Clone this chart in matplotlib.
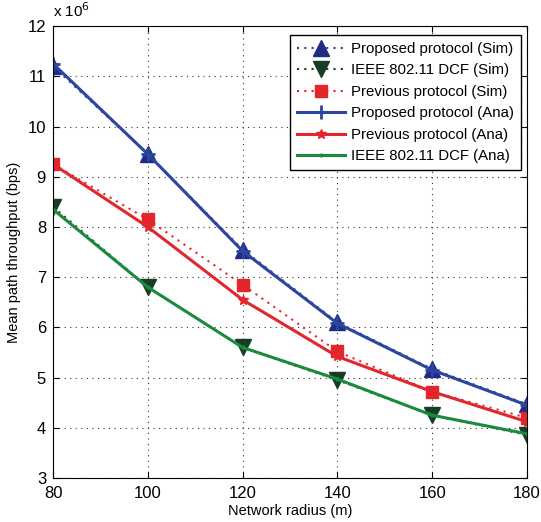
import matplotlib.pyplot as plt
from matplotlib.ticker import MultipleLocator

plt.rcParams['font.family'] = ['Liberation Sans', 'DejaVu Sans']

radius = [80, 100, 120, 140, 160, 180]

# throughput in units of 1e6 bps
proposed_sim = [11.2, 9.45, 7.55, 6.1, 5.17, 4.47]
dcf_sim = [8.4, 6.8, 5.6, 4.95, 4.25, 3.86]
previous_sim = [9.25, 8.15, 6.85, 5.52, 4.72, 4.2]
proposed_ana = [11.25, 9.45, 7.52, 6.08, 5.15, 4.45]
previous_ana = [9.25, 8.0, 6.55, 5.42, 4.72, 4.12]
dcf_ana = [8.35, 6.8, 5.6, 4.97, 4.25, 3.88]

blue = '#2b45a0'
navy = '#1f2b85'
red = '#e3262b'
green = '#1c8a3e'
dkgreen = '#173d24'

fig = plt.figure(figsize=(5.41, 5.22), dpi=100)
ax = fig.add_axes([0.098, 0.0843, 0.876, 0.8657])

ax.plot(radius, proposed_sim, linestyle=(0, (1, 2.5)), color=blue, linewidth=1.5,
        marker='^', markersize=11, markerfacecolor=navy, markeredgecolor=navy,
        label='Proposed protocol (Sim)')
ax.plot(radius, dcf_sim, linestyle=(0, (1, 2.5)), color=dkgreen, linewidth=1.5,
        marker='v', markersize=11, markerfacecolor=dkgreen, markeredgecolor=dkgreen,
        label='IEEE 802.11 DCF (Sim)')
ax.plot(radius, previous_sim, linestyle=(0, (1, 2.5)), color=red, linewidth=1.5,
        marker='s', markersize=9, markerfacecolor=red, markeredgecolor=red,
        label='Previous protocol (Sim)')
ax.plot(radius, proposed_ana, '-', color=blue, linewidth=2.2, marker='+',
        markersize=10, markeredgewidth=2, label='Proposed protocol (Ana)')
ax.plot(radius, previous_ana, '-', color=red, linewidth=2.2, marker='*',
        markersize=7, label='Previous protocol (Ana)')
ax.plot(radius, dcf_ana, '-', color=green, linewidth=2.2, marker='.',
        markersize=4, label='IEEE 802.11 DCF (Ana)')

ax.set_xlim(80, 180)
ax.set_ylim(3, 12)
ax.xaxis.set_major_locator(MultipleLocator(20))
ax.yaxis.set_major_locator(MultipleLocator(1))
ax.grid(True, linestyle=(0, (1, 4)), color='#333333', linewidth=0.8)
ax.tick_params(direction='in', labelsize=12, length=4, top=True, right=True)
ax.tick_params(axis='x', pad=6)
ax.tick_params(axis='y', pad=5)
ax.set_xlabel('Network radius (m)', fontsize=10.5, labelpad=2)
ax.set_ylabel('Mean path throughput (bps)', fontsize=10.5, labelpad=5)
fig.text(0.098, 0.962, r'x 10$^{6}$', fontsize=11, ha='left', va='bottom')

leg = ax.legend(loc='upper right', fontsize=10.8, fancybox=False, framealpha=1,
                edgecolor='black', borderpad=0.45, labelspacing=0.5,
                handlelength=3.2, handletextpad=0.4, borderaxespad=0,
                bbox_to_anchor=(0.987, 0.98))
leg.get_frame().set_linewidth(1.0)

fig.savefig('out.png', dpi=100)
